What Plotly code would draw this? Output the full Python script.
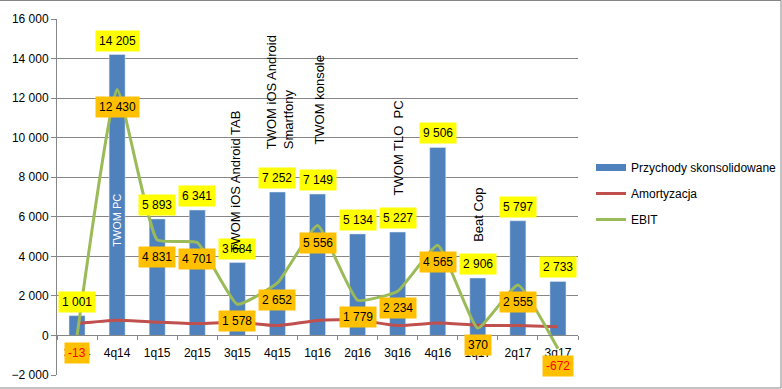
import plotly.graph_objects as go

categories = ["3q14", "4q14", "1q15", "2q15", "3q15", "4q15", "1q16",
              "2q16", "3q16", "4q16", "1q17", "2q17", "3q17"]
revenue = [1001, 14205, 5893, 6341, 3684, 7252, 7149, 5134, 5227, 9506, 2906, 5797, 2733]
amortization = [600, 770, 670, 600, 670, 500, 760, 780, 500, 630, 520, 500, 440]
ebit = [-13, 12430, 4831, 4701, 1578, 2652, 5556, 1779, 2234, 4565, 370, 2555, -672]
y_ticks = [-2000, 0, 2000, 4000, 6000, 8000, 10000, 12000, 14000, 16000]

# event labels: (text, category index, y value, colour, size, align)
events = [
    ("TWOM PC", 1.0, 5800, "white", 11, "center"),
    ("TWOM iOS Android TAB", 3.95, 7800, "black", 13, "center"),
    ("TWOM iOS Android<br>Smartfony", 5.05, 12320, "black", 13, "left"),
    ("TWOM konsole", 6.05, 11900, "black", 13, "center"),
    ("TWOM TLO\u00a0 PC", 8.03, 9500, "black", 13, "center"),
    ("Beat Cop", 10.03, 6100, "black", 13, "center"),
]

FONT = "Liberation Sans"
BLUE = "#4F81BD"
RED = "#C0504D"
GREEN = "#9BBB59"
GRID = "#868686"


def fmt(v):
    return f"{v:,}".replace(",", " ")


fig = go.Figure()
fig.add_trace(go.Bar(x=categories, y=revenue, marker_color=BLUE, name="Przychody skonsolidowane",
                     showlegend=False, hoverinfo="skip"))
# legend proxy for bar (wide flat swatch like the original)
fig.add_trace(go.Scatter(x=[None], y=[None], mode="lines", line=dict(color=BLUE, width=7),
                         name="Przychody skonsolidowane", legendgroup="a"))
fig.add_trace(go.Scatter(x=categories, y=amortization, mode="lines", name="Amortyzacja",
                         line=dict(color=RED, width=3, shape="spline", smoothing=0.6),
                         legendgroup="b"))
fig.add_trace(go.Scatter(x=categories, y=ebit, mode="lines", name="EBIT",
                         line=dict(color=GREEN, width=3, shape="spline", smoothing=0.4),
                         legendgroup="c"))

annotations = []
for i, v in enumerate(revenue):
    annotations.append(dict(x=i, y=v, xref="x", yref="y", text=fmt(v), showarrow=False,
                            yshift=14, bgcolor="#FFFF00", borderpad=3,
                            font=dict(family=FONT, size=12, color="black")))
for i, v in enumerate(ebit):
    annotations.append(dict(x=i, y=v, xref="x", yref="y", text=fmt(v), showarrow=False,
                            yshift=-17, bgcolor="#FFC000", borderpad=3,
                            font=dict(family=FONT, size=12, color="red" if v < 0 else "black")))
for text, xi, yv, col, size, al in events:
    annotations.append(dict(x=xi, y=yv, xref="x", yref="y", text=text, showarrow=False,
                            textangle=-90, align=al,
                            font=dict(family=FONT, size=size, color=col)))

W, H = 782, 389
L, R, T, B = 57, 204, 19, 14
pw, ph = W - L - R, H - T - B


def px(x):
    return (x - L) / pw


def py(y):
    return (H - B - y) / ph


shapes = [dict(type="path", xref="paper", yref="paper",
               path=f"M {px(0)},{py(0.5)} L {px(781)},{py(0.5)} L {px(781)},{py(388)} L {px(0)},{py(388)}",
               line=dict(color=GRID, width=1))]

fig.update_layout(
    width=W, height=H,
    margin=dict(l=L, r=R, t=T, b=B, pad=0, autoexpand=False),
    paper_bgcolor="white", plot_bgcolor="white",
    separators=". ",
    bargap=0.6,
    font=dict(family=FONT, size=12, color="black"),
    annotations=annotations,
    shapes=shapes,
    legend=dict(x=591 / W, y=1 - 153 / H, xref="container", yref="container",
                xanchor="left", yanchor="top",
                font=dict(family=FONT, size=12, color="black"),
                tracegroupgap=7, itemwidth=30, bgcolor="rgba(0,0,0,0)"),
    xaxis=dict(type="category", categoryorder="array", categoryarray=categories,
               anchor="free", position=2 / 18, showline=True, linecolor=GRID, linewidth=1,
               ticks="outside", ticklen=4, tickcolor=GRID, tickson="boundaries",
               ticklabelstandoff=6, automargin=False,
               showgrid=False, tickfont=dict(family=FONT, size=12, color="black"),
               range=[-0.5, 12.5]),
    yaxis=dict(range=[-2000, 16000], tickvals=y_ticks, tickformat=",d", automargin=False,
               showgrid=True, gridcolor=GRID, gridwidth=1, zeroline=False,
               showline=True, linecolor=GRID, linewidth=1, ticks="outside", ticklen=5,
               tickcolor=GRID, tickfont=dict(family=FONT, size=12, color="black")),
)

fig.write_html("out.html", config={"displayModeBar": False},
               post_script="document.body.style.margin='0';document.body.style.overflow='hidden';")
